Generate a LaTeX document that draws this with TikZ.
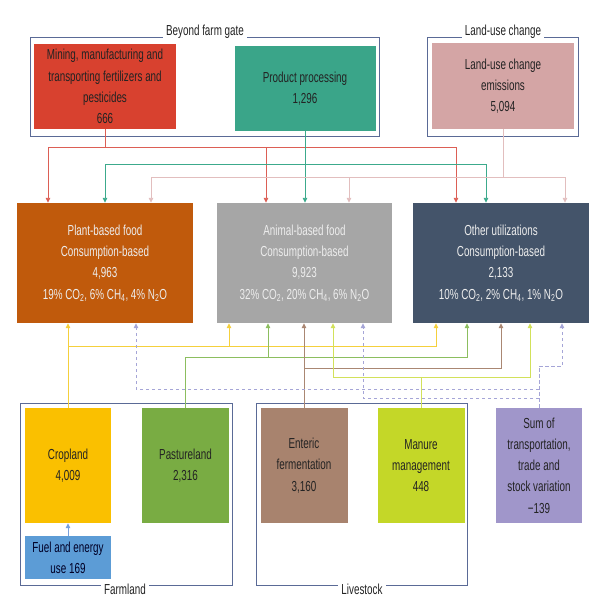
\documentclass[tikz,border=0pt]{standalone}
\usepackage{fontspec}
\setmainfont{Liberation Sans}[FakeStretch=0.68]
\usetikzlibrary{arrows.meta}
\definecolor{cRed}{RGB}{216,65,47}
\definecolor{cProc}{RGB}{58,165,137}
\definecolor{cPink}{RGB}{212,165,165}
\definecolor{cPlant}{RGB}{192,90,12}
\definecolor{cAnimal}{RGB}{166,166,166}
\definecolor{cOther}{RGB}{68,84,106}
\definecolor{cCrop}{RGB}{250,192,0}
\definecolor{cPast}{RGB}{121,172,67}
\definecolor{cEnt}{RGB}{168,131,110}
\definecolor{cMan}{RGB}{196,215,40}
\definecolor{cSum}{RGB}{160,150,202}
\definecolor{cFuel}{RGB}{92,156,214}
\definecolor{cFrame}{RGB}{90,106,150}
\definecolor{lRed}{RGB}{220,95,85}
\definecolor{lGreen}{RGB}{60,170,140}
\definecolor{lPink}{RGB}{226,190,190}
\definecolor{lYellow}{RGB}{245,208,60}
\definecolor{lPast}{RGB}{140,190,95}
\definecolor{lBrown}{RGB}{170,135,115}
\definecolor{lLime}{RGB}{210,225,90}
\definecolor{lPurple}{RGB}{165,165,215}
\definecolor{lBlue}{RGB}{120,160,220}
\definecolor{txtDark}{RGB}{35,35,35}
\begin{document}
\begin{tikzpicture}[x=1pt,y=-1pt,
  box/.style={rectangle, inner sep=0pt, align=center, text=txtDark,
    font=\fontsize{14.5}{21.3}\selectfont},
  cbox/.style={box, text=white!93!black, minimum width=176pt, minimum height=120pt},
  bbox/.style={box, minimum width=87pt, minimum height=115pt},
  frame/.style={draw=cFrame, line width=1pt, rectangle, inner sep=0pt},
  flabel/.style={fill=white, inner sep=3pt, text=txtDark, font=\fontsize{14.5}{16}\selectfont},
  conn/.style={line width=0.9pt},
  arr/.style={-{Triangle[width=4.5pt,length=5pt]}},
  dsh/.style={dash pattern=on 3.5pt off 2.5pt}
]
\useasboundingbox (0,0) rectangle (600,613);

% frames
\node[frame, minimum width=349pt, minimum height=99pt] (bfg) at (204.5,86.5) {};
\node[flabel] (bfglab) at (205,32) {Beyond farm gate};
\node[frame, minimum width=151pt, minimum height=99pt] (luc) at (502.5,86.5) {};
\node[flabel] (luclab) at (503,32) {Land-use change};
\node[frame, minimum width=212pt, minimum height=182pt] (farm) at (126,494) {};
\node[flabel] (farmlab) at (125,589) {Farmland};
\node[frame, minimum width=211pt, minimum height=182pt] (live) at (361.5,494) {};
\node[flabel] (livelab) at (362,589) {Livestock};

% top boxes
\node[box, fill=cRed, minimum width=142pt, minimum height=85pt] (red) at (105,86.5)
  {Mining, manufacturing and\\transporting fertilizers and\\pesticides\\666};
\node[box, fill=cProc, minimum width=141pt, minimum height=85pt] (proc) at (305,88.5)
  {Product processing\\1,296};
\node[box, fill=cPink, minimum width=142pt, minimum height=86pt] (pink) at (503,86)
  {Land-use change\\emissions\\5,094};

% consumption boxes
\node[cbox, fill=cPlant] (plant) at (105,263)
  {Plant-based food\\Consumption-based\\4,963\\19\% CO\textsubscript{2}, 6\% CH\textsubscript{4}, 4\% N\textsubscript{2}O};
\node[cbox, fill=cAnimal, minimum width=175pt] (animal) at (304.5,263)
  {Animal-based food\\Consumption-based\\9,923\\32\% CO\textsubscript{2}, 20\% CH\textsubscript{4}, 6\% N\textsubscript{2}O};
\node[cbox, fill=cOther] (other) at (501,263)
  {Other utilizations\\Consumption-based\\2,133\\10\% CO\textsubscript{2}, 2\% CH\textsubscript{4}, 1\% N\textsubscript{2}O};

% bottom boxes
\node[bbox, fill=cCrop, minimum width=86pt] (crop) at (68,465.5) {Cropland\\4,009};
\node[bbox, fill=cPast] (past) at (185.5,465.5) {Pastureland\\2,316};
\node[bbox, fill=cEnt] (ent) at (304,465.5) {Enteric\\fermentation\\3,160};
\node[bbox, fill=cMan] (man) at (421,465.5) {Manure\\management\\448};
\node[bbox, fill=cSum, minimum width=86pt] (sum) at (539,465.5)
  {Sum of\\transportation,\\trade and\\stock variation\\−139};
\node[box, fill=cFuel, minimum width=86pt, minimum height=43pt, text=black!85!blue] (fuel) at (68,557.5)
  {Fuel and energy\\use 169};

% top connectors
\coordinate (rbus) at (105,147);
\draw[conn, lRed] (red.south) -- (rbus);
\draw[conn, lRed, arr] (rbus) -| ([xshift=-57pt]plant.north);
\draw[conn, lRed, arr] (rbus) -| ([xshift=-38.5pt]animal.north);
\draw[conn, lRed, arr] (rbus) -| ([xshift=-45pt]other.north);

\coordinate (gbus) at (305,164);
\draw[conn, lGreen, arr] (proc.south) -- (proc.south |- animal.north);
\draw[conn, lGreen, arr] (gbus) -| (plant.north);
\draw[conn, lGreen, arr] (gbus) -| ([xshift=-15pt]other.north);

\coordinate (pbus) at (503,177);
\draw[conn, lPink] (pink.south) -- (pbus);
\draw[conn, lPink, arr] (pbus) -| ([xshift=46pt]plant.north);
\draw[conn, lPink, arr] (pbus) -| ([xshift=44.5pt]animal.north);
\draw[conn, lPink, arr] (pbus) -| ([xshift=64pt]other.north);

% bottom connectors
\coordinate (ybus) at (68,346);
\draw[conn, lYellow, arr] (crop.north) -- (crop.north |- plant.south);
\draw[conn, lYellow, arr] (ybus) -| ([xshift=-75.5pt]animal.south);
\draw[conn, lYellow, arr] (ybus) -| ([xshift=-65pt]other.south);

\coordinate (pastbus) at (185.5,357);
\draw[conn, lPast] (past.north) -- (pastbus);
\draw[conn, lPast, arr] (pastbus) -| ([xshift=-36.5pt]animal.south);
\draw[conn, lPast, arr] (pastbus) -| ([xshift=-34pt]other.south);

\coordinate (bbus) at (304,368);
\draw[conn, lBrown, arr] (ent.north) -- (ent.north |- animal.south);
\draw[conn, lBrown, arr] (bbus) -| (other.south);

\coordinate (lbus) at (421,377);
\draw[conn, lLime] (man.north) -- (lbus);
\draw[conn, lLime, arr] (lbus) -| ([xshift=28.5pt]animal.south);
\draw[conn, lLime, arr] (lbus) -| ([xshift=29pt]other.south);

\coordinate (s1) at (539,366);
\coordinate (s2) at (539,389);
\coordinate (s3) at (539,398);
\draw[conn, lPurple, dsh] (sum.north) -- (s1);
\draw[conn, lPurple, dsh, arr] (s1) -| ([xshift=61pt]other.south);
\draw[conn, lPurple, dsh, arr] (s2) -| ([xshift=31pt]plant.south);
\draw[conn, lPurple, dsh, arr] (s3) -| ([xshift=58.5pt]animal.south);

\draw[conn, lBlue, arr] (fuel.north) -- (crop.south);
\end{tikzpicture}
\end{document}
